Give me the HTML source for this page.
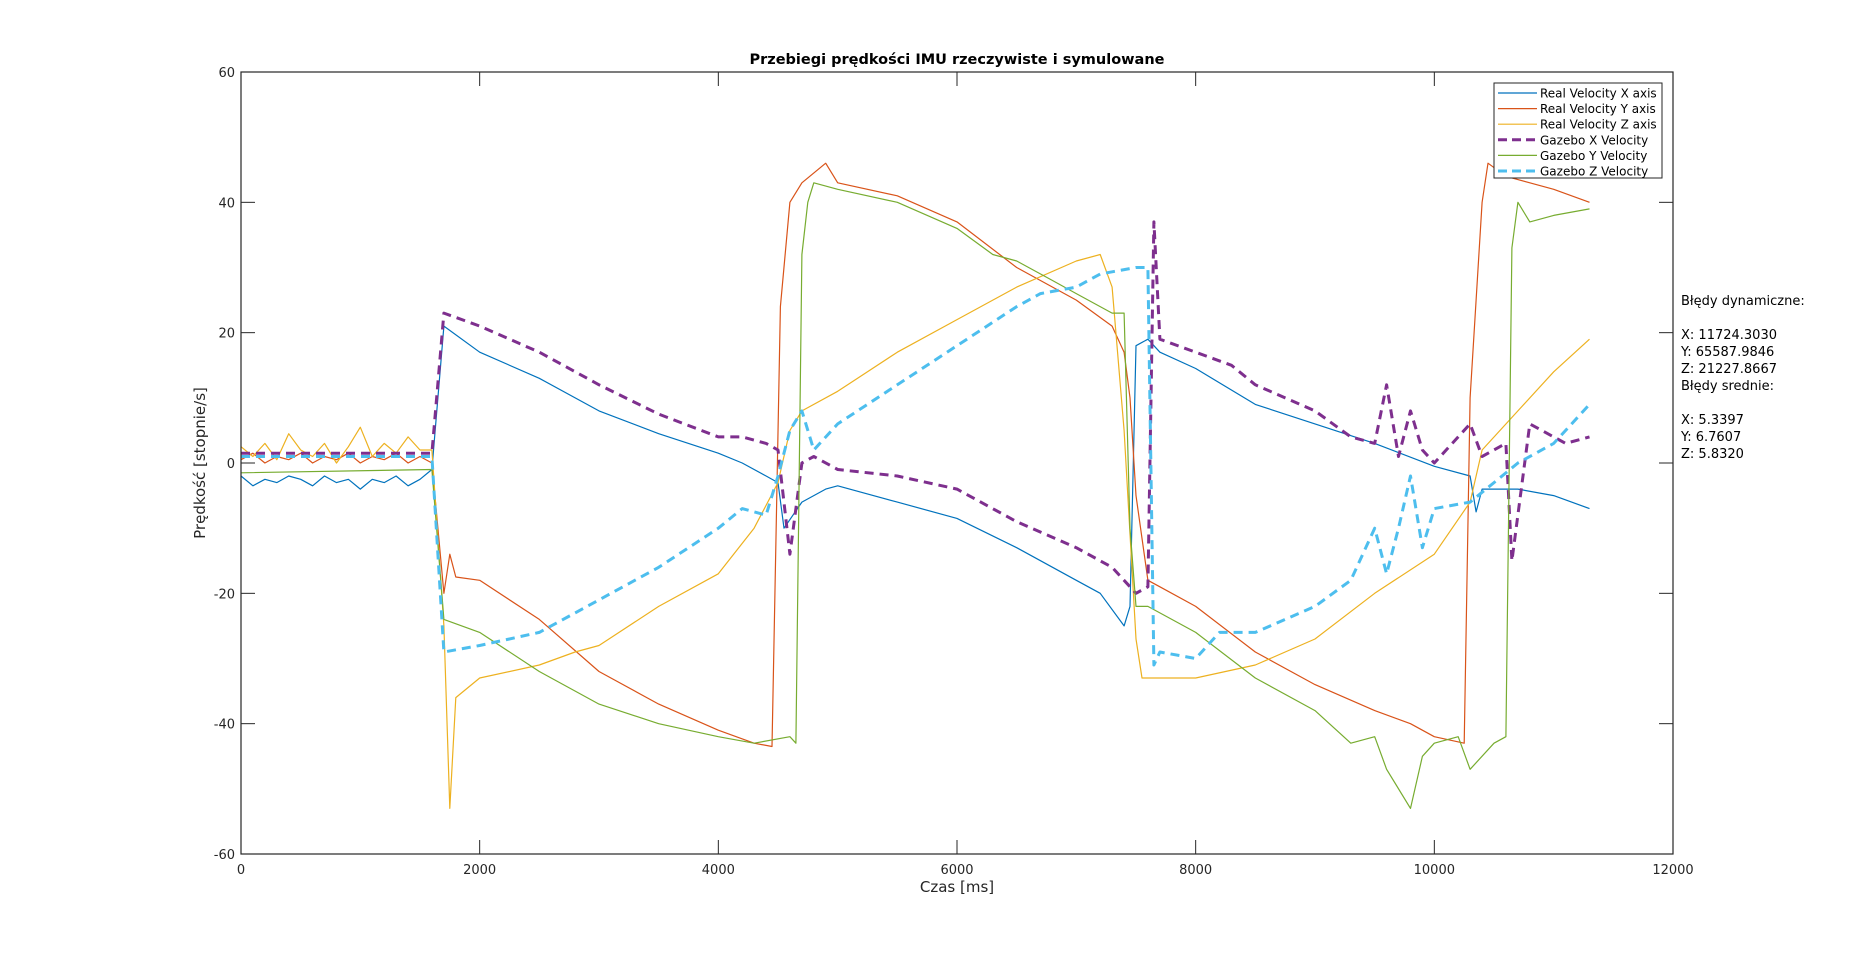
<!DOCTYPE html>
<html><head><meta charset="utf-8">
<style>
html,body{margin:0;padding:0;background:#fff;}
svg{display:block;font-family:"DejaVu Sans","Liberation Sans",sans-serif;}
</style></head>
<body>
<svg id="chart" width="1850" height="961" viewBox="0 0 1850 961" xmlns="http://www.w3.org/2000/svg">
<rect x="0" y="0" width="1850" height="961" fill="#fff"/>
<text x="957" y="64" text-anchor="middle" font-size="14.5" font-weight="bold" fill="#000">Przebiegi prędkości IMU rzeczywiste i symulowane</text>
<g id="plot"></g>
<text x="957" y="892" text-anchor="middle" font-size="15" fill="#262626">Czas [ms]</text>
<text transform="translate(205,463) rotate(-90)" text-anchor="middle" font-size="15" fill="#262626">Prędkość [stopnie/s]</text>
<g font-size="13" fill="#000">
<text x="1681" y="305">Błędy dynamiczne:</text>
<text x="1681" y="339">X: 11724.3030</text>
<text x="1681" y="356">Y: 65587.9846</text>
<text x="1681" y="373">Z: 21227.8667</text>
<text x="1681" y="390">Błędy srednie:</text>
<text x="1681" y="424">X: 5.3397</text>
<text x="1681" y="441">Y: 6.7607</text>
<text x="1681" y="458">Z: 5.8320</text>
</g>
<g id="legend"></g>
</svg>
<script>
const xTicks = [0,2000,4000,6000,8000,10000,12000];
const yTicks = [-60,-40,-20,0,20,40,60];
const seriesNames = ["Real Velocity X axis","Real Velocity Y axis","Real Velocity Z axis","Gazebo X Velocity","Gazebo Y Velocity","Gazebo Z Velocity"];
const seriesColors = ["#0072bd","#d95319","#edb120","#7e2f8e","#77ac30","#4dbeee"];
const seriesDashed = [false,false,false,true,false,true];

const realXt = [0,100,200,300,400,500,600,700,800,900,1000,1100,1200,1300,1400,1500,1600,1700,2000,2500,3000,3500,4000,4200,4400,4500,4550,4700,4900,5000,5500,6000,6500,7000,7200,7400,7450,7500,7600,7700,8000,8500,9000,9500,10000,10300,10350,10400,10700,11000,11300];
const realXv = [-2,-3.5,-2.5,-3,-2,-2.5,-3.5,-2,-3,-2.5,-4,-2.5,-3,-2,-3.5,-2.5,-1,21,17,13,8,4.5,1.5,0,-2,-3,-10,-6,-4,-3.5,-6,-8.5,-13,-18,-20,-25,-22,18,19,17,14.5,9,6,3,-0.5,-2,-7.5,-4,-4,-5,-7];

const realYt = [0,100,200,300,400,500,600,700,800,900,1000,1100,1200,1300,1400,1500,1600,1700,1750,1800,2000,2500,3000,3500,4000,4300,4450,4520,4600,4700,4900,5000,5500,6000,6500,7000,7300,7400,7450,7500,7600,7700,8000,8500,9000,9500,9800,10000,10250,10300,10350,10400,10450,10600,10800,11000,11300];
const realYv = [0.5,1.5,0,1,0.5,1.5,0,1,0.5,1.5,0,1,0.5,1.5,0,1,0,-20,-14,-17.5,-18,-24,-32,-37,-41,-43,-43.5,24,40,43,46,43,41,37,30,25,21,17,10,-5,-18,-19,-22,-29,-34,-38,-40,-42,-43,10,25,40,46,44,43,42,40];

const realZt = [0,100,200,300,400,500,600,700,800,900,1000,1100,1200,1300,1400,1500,1600,1700,1750,1800,2000,2500,2800,3000,3500,4000,4300,4500,4600,4700,5000,5500,6000,6500,7000,7200,7300,7400,7500,7550,7700,8000,8500,9000,9500,10000,10300,10400,10700,11000,11300];
const realZv = [2.5,1,3,0.5,4.5,2,1,3,0,2.5,5.5,1,3,1.5,4,2,2,-25,-53,-36,-33,-31,-29,-28,-22,-17,-10,-3,5,8,11,17,22,27,31,32,27,5,-27,-33,-33,-33,-31,-27,-20,-14,-6,2,8,14,19];

const gazXt = [0,1600,1700,2000,2500,3000,3500,4000,4200,4400,4500,4600,4700,4800,5000,5500,6000,6500,7000,7300,7500,7600,7650,7700,8000,8300,8500,9000,9300,9500,9600,9700,9800,9900,10000,10200,10300,10400,10600,10650,10800,11000,11100,11300];
const gazXv = [1.5,1.5,23,21,17,12,7.5,4,4,3,2,-14,0,1,-1,-2,-4,-9,-13,-16,-20,-19,37,19,17,15,12,8,4,3,12,1,8,2,0,4,6,1,3,-15,6,4,3,4];

const gazYt = [0,1600,1700,2000,2500,3000,3500,4000,4300,4600,4650,4700,4750,4800,5000,5500,6000,6300,6500,6800,7000,7300,7400,7450,7500,7600,8000,8500,9000,9300,9500,9600,9800,9900,10000,10200,10300,10500,10600,10650,10700,10800,11000,11300];
const gazYv = [-1.5,-1,-24,-26,-32,-37,-40,-42,-43,-42,-43,32,40,43,42,40,36,32,31,28,26,23,23,-10,-22,-22,-26,-33,-38,-43,-42,-47,-53,-45,-43,-42,-47,-43,-42,33,40,37,38,39];

const gazZt = [0,1600,1700,2000,2500,3000,3500,4000,4200,4400,4500,4600,4700,4800,5000,5500,6000,6500,6700,7000,7200,7500,7600,7650,7700,8000,8200,8500,9000,9300,9500,9600,9700,9800,9900,10000,10300,10500,10700,11000,11300];
const gazZv = [1,1,-29,-28,-26,-21,-16,-10,-7,-8,-2,5,8,2,6,12,18,24,26,27,29,30,30,-31,-29,-30,-26,-26,-22,-18,-10,-17,-10,-2,-13,-7,-6,-3,0,3,9];

const L=241,R=1673,T=72,B=854;
const xs = v => L + (v-0)/(12000-0)*(R-L);
const ys = v => B - (v+60)/120*(B-T);
const NS="http://www.w3.org/2000/svg";
const plot=document.getElementById('plot');
function mk(tag,attrs,parent){const e=document.createElementNS(NS,tag);for(const k in attrs)e.setAttribute(k,attrs[k]);(parent||plot).appendChild(e);return e;}

const allT=[realXt,realYt,realZt,gazXt,gazYt,gazZt];
const allV=[realXv,realYv,realZv,gazXv,gazYv,gazZv];
for(let s=0;s<6;s++){
  const d=allT[s].map((t,i)=>(i?'L':'M')+xs(t).toFixed(1)+','+ys(allV[s][i]).toFixed(1)).join(' ');
  const p=mk('path',{d:d,fill:'none',stroke:seriesColors[s],'stroke-width':seriesDashed[s]?3:1.2,'stroke-dasharray':seriesDashed[s]?'9,6':'none','stroke-linejoin':'round'});
  
  
}
const box=mk('rect',{x:L,y:T,width:R-L,height:B-T,fill:'none',stroke:'#262626','stroke-width':1.2});


xTicks.forEach(v=>{
  const x=xs(v);
  mk('line',{x1:x,y1:B,x2:x,y2:B-14,stroke:'#262626'});
  mk('line',{x1:x,y1:T,x2:x,y2:T+14,stroke:'#262626'});
  const t=mk('text',{x:x,y:B+20,'text-anchor':'middle','font-size':13,fill:'#262626'});
  t.textContent=v;
  
  
});
yTicks.forEach(v=>{
  const y=ys(v);
  mk('line',{x1:L,y1:y,x2:L+14,y2:y,stroke:'#262626'});
  mk('line',{x1:R,y1:y,x2:R-14,y2:y,stroke:'#262626'});
  const t=mk('text',{x:L-6,y:y+5,'text-anchor':'end','font-size':13,fill:'#262626'});
  t.textContent=v;
  
  
});
const lg=document.getElementById('legend');
mk('rect',{x:1494,y:83,width:168,height:95,fill:'#fff',stroke:'#262626','stroke-width':1},lg);
seriesNames.forEach((n,i)=>{
  const y=93+i*15.6;
  const g=mk('g',{},lg);
  
  
  mk('line',{x1:1498,y1:y,x2:1537,y2:y,stroke:seriesColors[i],'stroke-width':seriesDashed[i]?3:1.2,'stroke-dasharray':seriesDashed[i]?'9,5':'none'},g);
  const t=mk('text',{x:1540,y:y+4.5,'font-size':12,fill:'#000'},g);
  t.textContent=n;
});
</script>
</body></html>
